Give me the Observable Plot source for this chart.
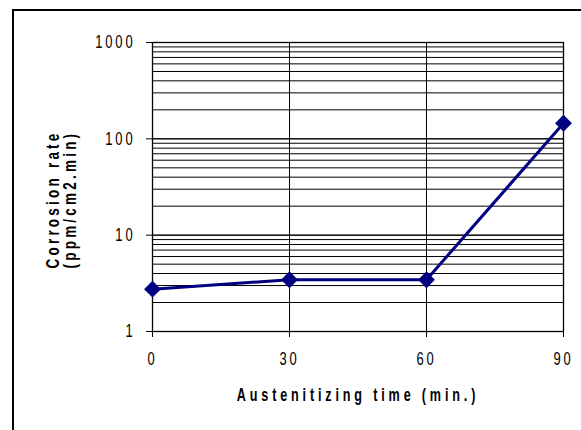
<!DOCTYPE html>
<html>
<head>
<meta charset="utf-8">
<script src="https://cdn.jsdelivr.net/npm/d3@7"></script>
<script src="https://cdn.jsdelivr.net/npm/@observablehq/plot@0.6"></script>
<style>
  html, body { margin: 0; padding: 0; background: #fff; }
  #wrap { position: relative; width: 581px; height: 430px; overflow: hidden; }
  #border { position: absolute; left: 12px; top: 9px; width: 600px; height: 500px;
            border-top: 2px solid #000; border-left: 2px solid #000; box-sizing: border-box; pointer-events: none; }
  g[aria-label="x-axis tick label"] text, g[aria-label="y-axis tick label"] text { letter-spacing: 4px; }
  g.ylab text { letter-spacing: 4.3px; }
  g.xlab text { letter-spacing: 5.5px; }
</style>
</head>
<body>
<div id="wrap"><div id="border"></div></div>
<script>
const times = [0, 30, 60, 90];
const rates = [2.75, 3.45, 3.45, 145];
const yTicks = [1, 10, 100, 1000];
const xTicks = [0, 30, 60, 90];
const xTitle = "Austenitizing time (min.)";
const yTitle = "Corrosion rate\n(ppm/cm2.min)";

const gridY = [];
for (const d of [1, 10, 100]) for (let k = 1; k <= 10; k++) gridY.push(d * k);
const gridX = [30, 60];
const data = times.map((t, i) => ({t, r: rates[i]}));

const font = '"Liberation Sans", Arial, sans-serif';

const chart = Plot.plot({
  width: 581,
  height: 430,
  marginLeft: 152,
  marginRight: 18,
  marginTop: 42,
  marginBottom: 99,
  style: {fontFamily: font, fontSize: "18px", color: "#000", background: "transparent"},
  x: {domain: [0, 90]},
  y: {type: "log", domain: [1, 1000]},
  marks: [
    Plot.ruleY(gridY, {y: d => d, stroke: "#000", strokeWidth: 1}),
    Plot.ruleX(gridX, {x: d => d, stroke: "#000", strokeWidth: 1}),
    Plot.frame({stroke: "#000", strokeWidth: 1.3}),
    Plot.axisY({ticks: yTicks, tickFormat: d => String(d), tickSize: 6, tickPadding: 11, label: null, fontSize: 18}),
    Plot.axisX({ticks: xTicks, tickFormat: d => String(d), tickSize: 6, tickPadding: 15, label: null, fontSize: 18}),
    Plot.line(data, {x: "t", y: "r", stroke: "#000080", strokeWidth: 3}),
    Plot.dot(data, {x: "t", y: "r", symbol: "diamond2", r: 7.6, fill: "#000080", stroke: "none"}),
    Plot.text([xTitle], {frameAnchor: "bottom", dy: 69, text: d => d, fontWeight: "bold", fontSize: 18, className: "xlab"}),
    Plot.text([yTitle], {frameAnchor: "bottom-left", textAnchor: "start", dx: -77, dy: -63, rotate: -90, text: d => d, fontWeight: "bold", fontSize: 18, lineHeight: 0.89, className: "ylab"})
  ]
});

// condense glyphs horizontally to mimic a narrow typeface
function condense(sel, k) {
  d3.select(chart).selectAll(sel).each(function() {
    const t = this.getAttribute("transform") || "";
    this.setAttribute("transform", (t + ` scale(${k},1)`).trim());
  });
}
condense('g[aria-label="x-axis tick label"] text', 0.72);
condense('g[aria-label="y-axis tick label"] text', 0.72);
condense('g.xlab text', 0.7);
condense('g.ylab text', 0.75);

document.getElementById("wrap").insertBefore(chart, document.getElementById("border"));
</script>
</body>
</html>
